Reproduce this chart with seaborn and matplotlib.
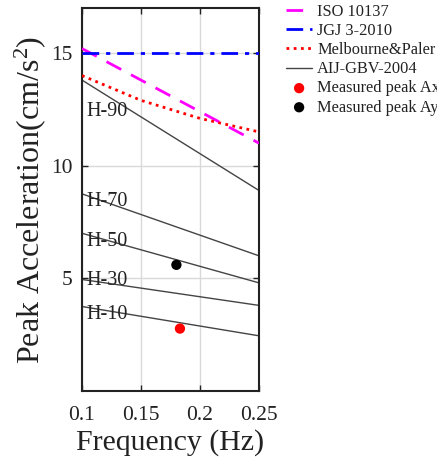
import matplotlib
matplotlib.use("Agg")
import matplotlib.pyplot as plt
import seaborn as sns
import pandas as pd

# ---- data ----
freq_ends = [0.10, 0.25]
iso_10137 = [15.2, 11.0]
jgj_3_2010 = [15.0, 15.0]
mel_freq = [0.10, 0.15, 0.20, 0.25]
melbourne_paler = [14.0, 12.9, 12.1, 11.5]
aij_labels = ["H-90", "H-70", "H-50", "H-30", "H-10"]
aij_start = [13.8, 8.75, 7.0, 4.95, 3.75]
aij_end = [8.9, 6.0, 4.8, 3.8, 2.45]
aij_label_y = [12.4, 8.4, 6.65, 4.9, 3.4]
meas_ax = (0.183, 2.77)
meas_ay = (0.180, 5.6)
x_ticks = [0.1, 0.15, 0.2, 0.25]
x_tick_labels = ["0.1", "0.15", "0.2", "0.25"]
y_ticks = [5, 10, 15]

sns.set_theme(style="ticks")
plt.rcParams["font.family"] = ["Liberation Serif", "DejaVu Serif"]
plt.rcParams["mathtext.fontset"] = "custom"
plt.rcParams["mathtext.rm"] = "Liberation Serif"
plt.rcParams["mathtext.it"] = "Liberation Serif:italic"

fig = plt.figure(figsize=(4.37, 4.59), dpi=100)
ax = fig.add_axes([82/437, 1-391/459, (259-82)/437, (391-8)/459])

ax.grid(True, color="#d9d9d9", linewidth=1.0, zorder=0)

sns.lineplot(x=freq_ends, y=iso_10137, ax=ax, color="#ff00ff", linewidth=2,
             label="ISO 10137", zorder=3)
ax.lines[-1].set_dashes([6, 4])
sns.lineplot(x=freq_ends, y=jgj_3_2010, ax=ax, color="#0000ff", linewidth=2,
             label="JGJ 3-2010", zorder=3)
ax.lines[-1].set_dashes([6, 2.5, 1.5, 2.5])
sns.lineplot(x=mel_freq, y=melbourne_paler, ax=ax, color="#ff0000", linewidth=2,
             label="Melbourne&Paler", zorder=3)
ax.lines[-1].set_dashes([1, 1.6])

for i, (lab, s, e, ly) in enumerate(zip(aij_labels, aij_start, aij_end, aij_label_y)):
    df = pd.DataFrame({"f": freq_ends, "a": [s, e]})
    sns.lineplot(data=df, x="f", y="a", ax=ax, color="#444444", linewidth=1.0,
                 label="AIJ-GBV-2004" if i == 0 else None, zorder=2)
    ax.text(0.104, ly, lab, fontsize=14.5, va="center", ha="left", color="#222222",
            zorder=4)

sns.scatterplot(x=[meas_ax[0]], y=[meas_ax[1]], ax=ax, color="#ff0000", s=55,
                edgecolor="none", label="Measured peak Ax", zorder=5)
sns.scatterplot(x=[meas_ay[0]], y=[meas_ay[1]], ax=ax, color="#000000", s=55,
                edgecolor="none", label="Measured peak Ay", zorder=5)

ax.set_xlim(0.1, 0.25)
ax.set_ylim(0, 17)
ax.set_xticks(x_ticks)
ax.set_xticklabels(x_tick_labels)
ax.set_yticks(y_ticks)
ax.tick_params(direction="in", top=True, right=True, labelsize=15.5, length=4,
               width=1, colors="#222222")
ax.tick_params(axis="x", pad=11)
ax.tick_params(axis="y", pad=7)
for sp in ax.spines.values():
    sp.set_visible(True)
    sp.set_color("#222222")
    sp.set_linewidth(1.5)

ax.set_xlabel("Frequency (Hz)", fontsize=21.5, color="#222222", labelpad=3)
ax.set_ylabel("Peak Acceleration(cm/s$^2$)", fontsize=23, color="#222222", labelpad=2)

leg = ax.legend(loc="upper left", bbox_to_anchor=(286/437, 1-4/459),
                bbox_transform=fig.transFigure, frameon=False, fontsize=11.8,
                handlelength=1.6, handletextpad=0.3, labelspacing=0.19,
                borderaxespad=0, borderpad=0)
for t in leg.get_texts():
    t.set_color("#222222")

fig.savefig("out.png", dpi=100)
